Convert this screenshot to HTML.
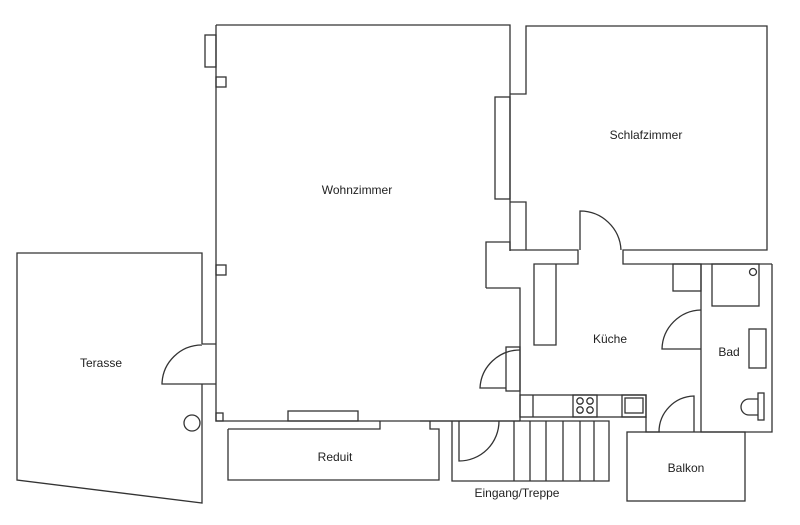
<!DOCTYPE html>
<html><head><meta charset="utf-8"><style>
html,body{margin:0;padding:0;background:#fff;}
svg{display:block;}
text{font-family:"Liberation Sans",sans-serif;font-size:12px;fill:#222;text-anchor:middle;}
</style></head><body>
<svg width="800" height="525" viewBox="0 0 800 525" xmlns="http://www.w3.org/2000/svg">
<g fill="none" stroke="#333" stroke-width="1.3">
<!-- Wohnzimmer -->
<path d="M216 25 H510 V251"/>
<path d="M216 25 V421 H520"/>
<rect x="205" y="35" width="11" height="32"/>
<rect x="216" y="77" width="10" height="10"/>
<rect x="216" y="265" width="10" height="10"/>
<rect x="216" y="413" width="7" height="8"/>
<rect x="288" y="411" width="70" height="10"/>
<rect x="495" y="97" width="15" height="102"/>
<!-- Schlafzimmer -->
<path d="M510 94 H526 V26 H767 V250 H623 V264 H772"/>
<path d="M510 202 H526 V250"/>
<path d="M486 288 V242 H510 V250 H578 V264 H534 V345 H556 V264"/>
<path d="M580 250 V211 A41 41 0 0 1 621 250"/>
<!-- Küche -->
<path d="M486 288 H520 V421"/>
<rect x="506" y="347" width="14" height="44"/>
<path d="M520 350 A40 40 0 0 0 480 388 H506"/>
<rect x="520" y="395" width="126" height="22"/>
<line x1="533" y1="395" x2="533" y2="417"/>
<rect x="573" y="395" width="24" height="22"/>
<circle cx="580" cy="401" r="3.2"/><circle cx="590" cy="401" r="3.2"/>
<circle cx="580" cy="410" r="3.2"/><circle cx="590" cy="410" r="3.2"/>
<rect x="622" y="395" width="24" height="22"/>
<rect x="625" y="398" width="18" height="15"/>
<path d="M646 417 V432 H660"/>
<path d="M694 432 V396 A36 36 0 0 0 659 432"/>
<rect x="673" y="264" width="28" height="27"/>
<path d="M701 349 H662 A40 40 0 0 1 701 310"/>
<!-- Bad -->
<path d="M701 264 V432 H772 V264"/>
<rect x="712" y="264" width="47" height="42"/>
<circle cx="753" cy="272" r="3.5"/>
<rect x="749" y="329" width="17" height="39"/>
<rect x="758" y="393" width="6" height="27"/>
<path d="M758 399 H749 A8 8 0 0 0 749 415 H758"/>
<!-- Balkon -->
<rect x="627" y="432" width="118" height="69"/>
<!-- Treppe -->
<path d="M420 421 H609 V481 H452 V421"/>
<path d="M499 421 A40 40 0 0 1 459 461 V421"/>
<line x1="514" y1="421" x2="514" y2="481"/>
<line x1="530" y1="421" x2="530" y2="481"/>
<line x1="546" y1="421" x2="546" y2="481"/>
<line x1="563" y1="421" x2="563" y2="481"/>
<line x1="580" y1="421" x2="580" y2="481"/>
<line x1="594" y1="421" x2="594" y2="481"/>
<!-- Reduit -->
<path d="M228 429 H380 V421"/>
<path d="M430 421 V429 H439 V480 H228 V429"/>
<!-- Terasse -->
<path d="M202 344 V253 H17 V480 L202 503 V384"/>
<path d="M202 344 H216 M202 384 H216"/>
<path d="M202 345 A40 40 0 0 0 162 384 H202"/>
<circle cx="192" cy="423" r="8"/>
</g>
<text x="357" y="194">Wohnzimmer</text>
<text x="646" y="139">Schlafzimmer</text>
<text x="101" y="367">Terasse</text>
<text x="610" y="343">Küche</text>
<text x="729" y="356">Bad</text>
<text x="335" y="461">Reduit</text>
<text x="686" y="472">Balkon</text>
<text x="517" y="497">Eingang/Treppe</text>
</svg>
</body></html>
